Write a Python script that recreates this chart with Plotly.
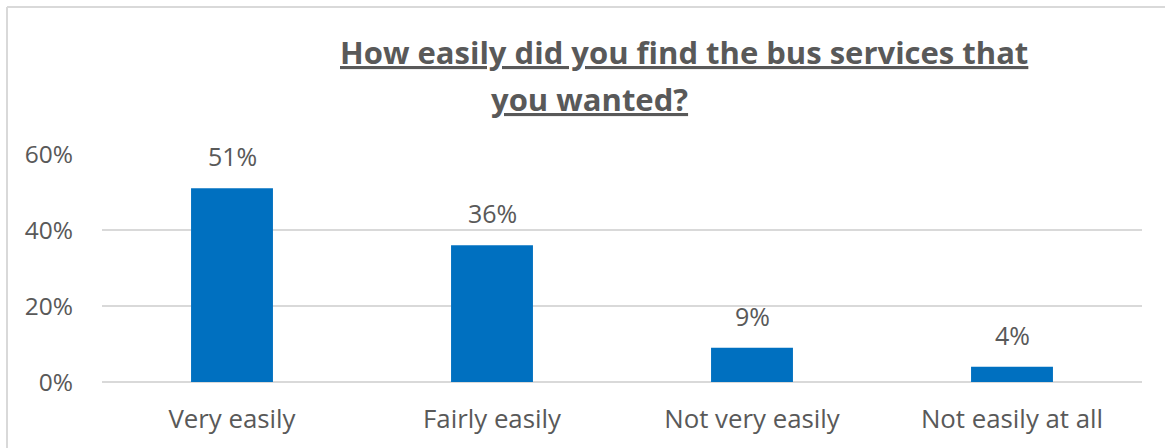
import plotly.graph_objects as go

categories = ["Very easily", "Fairly easily", "Not very easily", "Not easily at all"]
shares = [51, 36, 9, 4]
y_ticks = [0, 20, 40, 60]
y_tick_labels = ["0%", "20%", "40%", "60%"]

GREY = "#595959"
BLUE = "#0070C0"
FONT = "Open Sans"

fig = go.Figure(
    go.Bar(
        x=categories,
        y=shares,
        marker=dict(color=BLUE, line=dict(width=0)),
        hoverinfo="skip",
    )
)

# Value labels sit a fixed distance above each bar
for cat, v in zip(categories, shares):
    fig.add_annotation(
        x=cat, y=v, text=f"{v}%", showarrow=False,
        xanchor="center", yanchor="bottom", yshift=13,
        font=dict(family=FONT, size=25, color=GREY),
    )

fig.update_layout(
    width=1165,
    height=448,
    margin=dict(l=102, r=23, t=154, b=66),
    paper_bgcolor="white",
    plot_bgcolor="white",
    bargap=0.685,
    showlegend=False,
    font=dict(family=FONT, size=25, color=GREY),
)

fig.update_xaxes(
    showgrid=False,
    showline=False,
    ticks="",
    ticklabelstandoff=19,
    tickfont=dict(family=FONT, size=25.8, color=GREY),
)
fig.update_yaxes(
    range=[0, 60],
    tickvals=y_ticks,
    ticktext=y_tick_labels,
    showgrid=True,
    gridcolor="#d9d9d9",
    gridwidth=1.5,
    zeroline=True,
    zerolinecolor="#d9d9d9",
    zerolinewidth=1.5,
    ticks="",
    ticklabelstandoff=28,
    tickfont=dict(family=FONT, size=24.5, color=GREY),
)

# Two-line title, underlined, laid out as separate annotations
title_font = dict(family=FONT, size=31, color=GREY, weight="bold", lineposition="under")
fig.add_annotation(
    text="How easily did you find the bus services that",
    xref="paper", yref="paper", x=(684 - 102) / 1040, y=(382 - 52) / 228,
    xanchor="center", yanchor="middle", showarrow=False, font=title_font,
)
fig.add_annotation(
    text="you wanted?",
    xref="paper", yref="paper", x=(589 - 102) / 1040, y=(382 - 99) / 228,
    xanchor="center", yanchor="middle", showarrow=False, font=title_font,
)

# Chart frame edges (left and top)
frame = dict(color="#d9d9d9", width=2)
fig.add_shape(type="line", xref="paper", yref="paper",
              x0=(7 - 102) / 1040, x1=(7 - 102) / 1040,
              y0=(382 - 7) / 228, y1=(382 - 460) / 228, line=frame)
fig.add_shape(type="line", xref="paper", yref="paper",
              x0=(7 - 102) / 1040, x1=(1170 - 102) / 1040,
              y0=(382 - 7) / 228, y1=(382 - 7) / 228, line=frame)

fig.write_html("out.html")
